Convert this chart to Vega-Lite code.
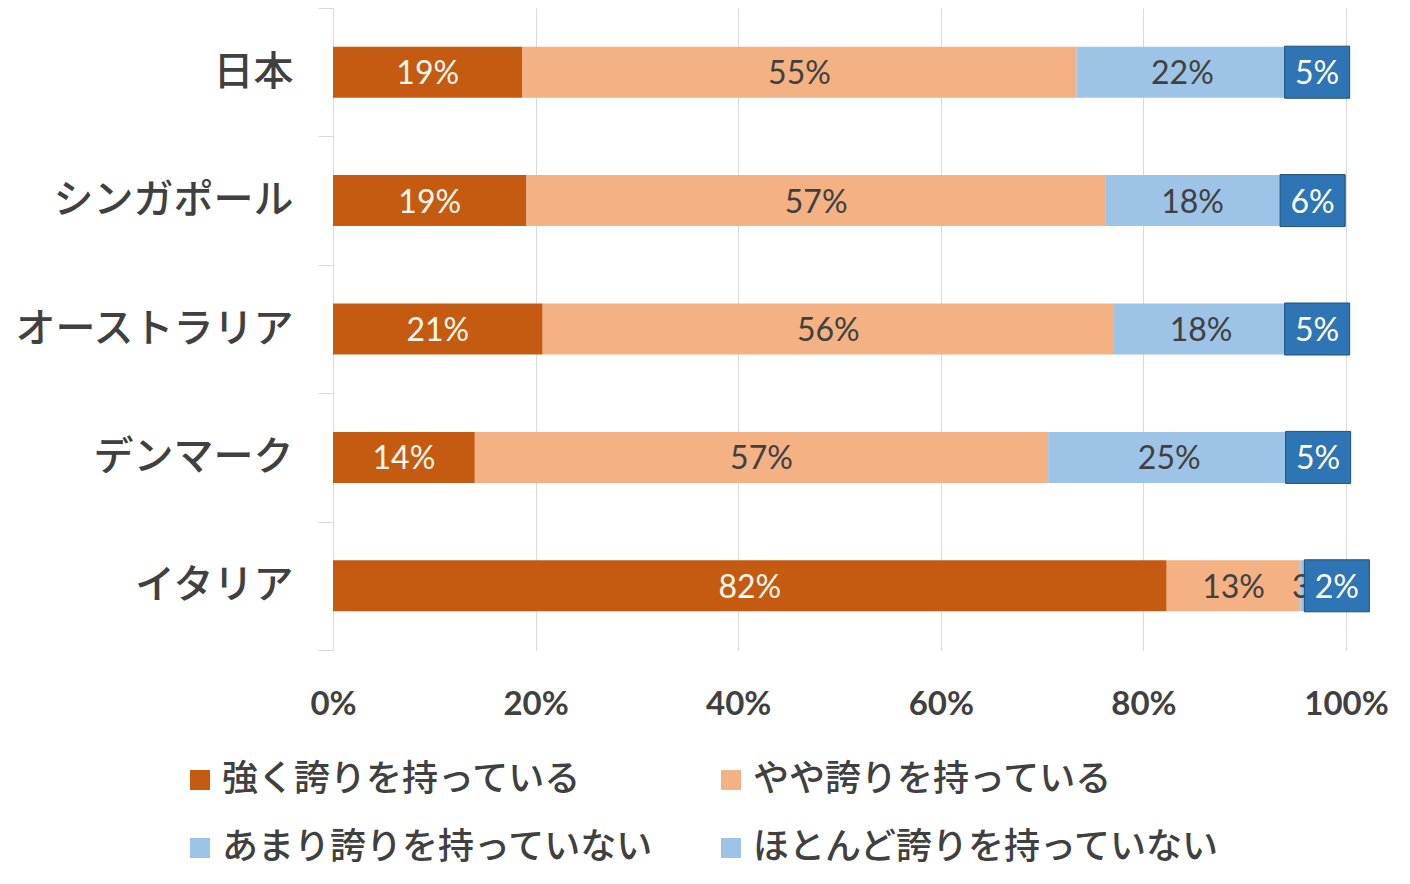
{
  "$schema": "https://vega.github.io/schema/vega-lite/v6.json",
  "width": 1013,
  "height": 642,
  "autosize": {"type": "none"},
  "padding": {"left": 333, "top": 8, "right": 64, "bottom": 234},
  "background": "white",
  "config": {"view": {"stroke": null}, "font": "Noto Sans CJK JP"},
  "data": {
    "values": [
      {"country": "日本", "cat": "強く誇りを持っている", "share": 18.7, "label": "19%"},
      {"country": "日本", "cat": "やや誇りを持っている", "share": 54.7, "label": "55%"},
      {"country": "日本", "cat": "あまり誇りを持っていない", "share": 20.9, "label": "22%"},
      {"country": "日本", "cat": "ほとんど誇りを持っていない", "share": 5.7, "label": "5%"},
      {"country": "シンガポール", "cat": "強く誇りを持っている", "share": 19.1, "label": "19%"},
      {"country": "シンガポール", "cat": "やや誇りを持っている", "share": 57.2, "label": "57%"},
      {"country": "シンガポール", "cat": "あまり誇りを持っていない", "share": 17.1, "label": "18%"},
      {"country": "シンガポール", "cat": "ほとんど誇りを持っていない", "share": 6.6, "label": "6%"},
      {"country": "オーストラリア", "cat": "強く誇りを持っている", "share": 20.7, "label": "21%"},
      {"country": "オーストラリア", "cat": "やや誇りを持っている", "share": 56.4, "label": "56%"},
      {"country": "オーストラリア", "cat": "あまり誇りを持っていない", "share": 17.2, "label": "18%"},
      {"country": "オーストラリア", "cat": "ほとんど誇りを持っていない", "share": 5.7, "label": "5%"},
      {"country": "デンマーク", "cat": "強く誇りを持っている", "share": 14.0, "label": "14%"},
      {"country": "デンマーク", "cat": "やや誇りを持っている", "share": 56.6, "label": "57%"},
      {"country": "デンマーク", "cat": "あまり誇りを持っていない", "share": 23.9, "label": "25%"},
      {"country": "デンマーク", "cat": "ほとんど誇りを持っていない", "share": 5.5, "label": "5%"},
      {"country": "イタリア", "cat": "強く誇りを持っている", "share": 82.3, "label": "82%"},
      {"country": "イタリア", "cat": "やや誇りを持っている", "share": 13.2, "label": "13%"},
      {"country": "イタリア", "cat": "あまり誇りを持っていない", "share": 2.7, "label": "3%"},
      {"country": "イタリア", "cat": "ほとんど誇りを持っていない", "share": 1.8, "label": "2%"}
    ]
  },
  "transform": [
    {"calculate": "indexof(['強く誇りを持っている','やや誇りを持っている','あまり誇りを持っていない','ほとんど誇りを持っていない'], datum.cat)", "as": "k"},
    {"stack": "share", "groupby": ["country"], "sort": [{"field": "k", "order": "ascending"}], "as": ["x0", "x1"]},
    {"calculate": "(datum.x0 + datum.x1) / 2", "as": "mid"}
  ],
  "encoding": {
    "y": {
      "field": "country",
      "type": "nominal",
      "sort": ["日本", "シンガポール", "オーストラリア", "デンマーク", "イタリア"],
      "scale": {"paddingInner": 0, "paddingOuter": 0},
      "axis": {
        "title": null,
        "labelFont": "Noto Sans CJK JP",
        "labelFontSize": 40,
        "labelFontWeight": 500,
        "labelColor": "#404040",
        "labelLimit": 1000,
        "labelPadding": 25,
        "tickSize": 15,
        "tickBand": "extent",
        "tickColor": "#D9D9D9",
        "domainColor": "#D9D9D9",
        "grid": false
      }
    }
  },
  "layer": [
    {
      "mark": {"type": "bar", "size": 51},
      "encoding": {
        "x": {
          "field": "x0",
          "type": "quantitative",
          "scale": {"domain": [0, 100], "nice": false},
          "axis": {
            "title": null,
            "values": [0, 20, 40, 60, 80, 100],
            "labelExpr": "datum.value + '%'",
            "labelFlush": false,
            "labelFont": "Lato",
            "labelFontWeight": "bold",
            "labelFontSize": 33,
            "labelColor": "#404040",
            "labelPadding": 38,
            "ticks": false,
            "domain": false,
            "grid": true,
            "gridColor": "#D9D9D9"
          }
        },
        "x2": {"field": "x1"},
        "color": {
          "field": "cat",
          "type": "nominal",
          "scale": {
            "domain": ["強く誇りを持っている", "やや誇りを持っている", "あまり誇りを持っていない", "ほとんど誇りを持っていない"],
            "range": ["#C55A11", "#F4B183", "#9DC3E6", "#9DC3E6"]
          },
          "legend": {
            "orient": "none",
            "direction": "horizontal",
            "legendX": -151,
            "legendY": 754,
            "columns": 2,
            "title": null,
            "symbolType": "square",
            "symbolSize": 400,
            "symbolStrokeWidth": 0,
            "labelFont": "Noto Sans CJK JP",
            "labelFontSize": 36,
            "labelFontWeight": 500,
            "labelColor": "#404040",
            "labelLimit": 1000,
            "labelOffset": 4,
            "columnPadding": 58,
            "rowPadding": 32,
            "padding": 0
          }
        }
      }
    },
    {
      "transform": [{"filter": "datum.k == 0"}],
      "mark": {"type": "text", "font": "Lato", "fontSize": 32, "color": "#FFF8EE", "baseline": "middle", "align": "center", "dy": 2},
      "encoding": {
        "x": {"field": "mid", "type": "quantitative"},
        "text": {"field": "label"}
      }
    },
    {
      "transform": [{"filter": "datum.k == 1 || datum.k == 2"}],
      "mark": {"type": "text", "font": "Lato", "fontSize": 32, "color": "#404040", "baseline": "middle", "align": "center", "dy": 2},
      "encoding": {
        "x": {"field": "mid", "type": "quantitative"},
        "text": {"field": "label"}
      }
    },
    {
      "transform": [{"filter": "datum.k == 3"}],
      "mark": {"type": "point", "shape": "M-1,-0.8H1V0.8H-1Z", "size": 4225, "filled": true, "fill": "#2E75B6", "stroke": "#1F4E79", "strokeWidth": 1, "opacity": 1},
      "encoding": {
        "x": {"field": "mid", "type": "quantitative"}
      }
    },
    {
      "transform": [{"filter": "datum.k == 3"}],
      "mark": {"type": "text", "font": "Lato", "fontSize": 32, "color": "#FFFFFF", "baseline": "middle", "align": "center", "dy": 2},
      "encoding": {
        "x": {"field": "mid", "type": "quantitative"},
        "text": {"field": "label"}
      }
    }
  ]
}
